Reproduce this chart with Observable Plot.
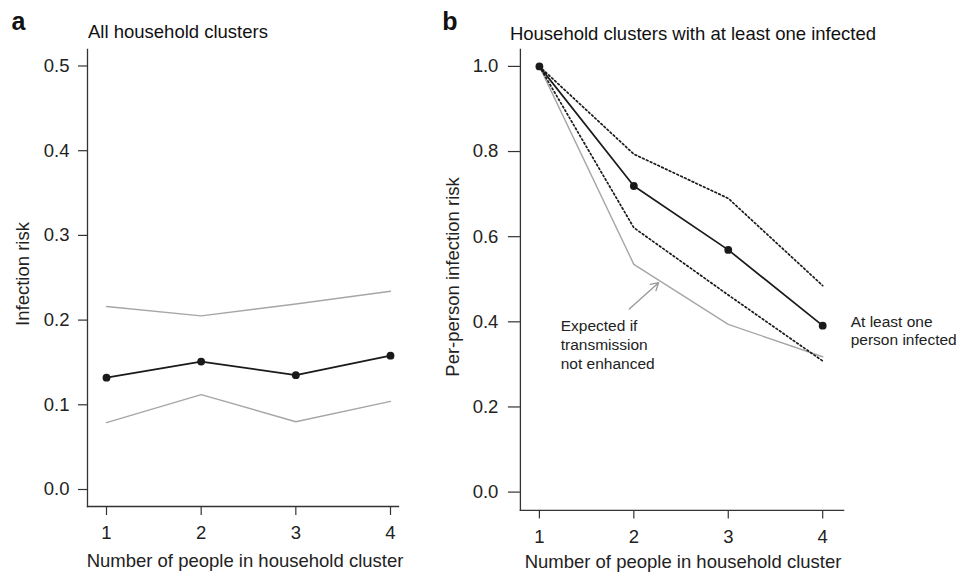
<!DOCTYPE html>
<html>
<head>
<meta charset="utf-8">
<script src="https://cdn.jsdelivr.net/npm/d3@7"></script>
<script src="https://cdn.jsdelivr.net/npm/@observablehq/plot@0.6"></script>
<style>
  html, body { margin: 0; padding: 0; background: #fff; }
  #chart { position: relative; width: 960px; height: 572px; overflow: hidden; }
  #chart svg { position: absolute; top: 0; }
</style>
</head>
<body>
<div id="chart"></div>
<script>
// ---- data ----
const sizes = [1, 2, 3, 4];                         // number of people in household cluster
const xTicks = [1, 2, 3, 4];

// Panel a: all household clusters
const allMean  = [0.132, 0.151, 0.135, 0.158];
const allUpper = [0.216, 0.205, 0.219, 0.234];
const allLower = [0.079, 0.112, 0.080, 0.104];
const aTicks   = [0, 0.1, 0.2, 0.3, 0.4, 0.5];

// Panel b: household clusters with at least one infected
const infMean     = [1.0, 0.719, 0.569, 0.391];
const infUpper    = [1.0, 0.794, 0.690, 0.485];
const infLower    = [1.0, 0.621, 0.463, 0.308];
const infExpected = [1.0, 0.535, 0.394, 0.318];
const bTicks      = [0, 0.2, 0.4, 0.6, 0.8, 1.0];

// Texts
const panelLetters = ["a", "b"];
const titles = ["All household clusters", "Household clusters with at least one infected"];
const xLabel = "Number of people in household cluster";
const yLabels = ["Infection risk", "Per-person infection risk"];
const meanNote = "At least one\nperson infected";
const expectedNote = "Expected if\ntransmission\nnot enhanced";
// annotation anchor (data units) and arrow (data units)
const expectedNoteAt = [{x: 1.2256, y: 0.41}];
const expectedArrow = [{x1: 1.952, y1: 0.43, x2: 2.262, y2: 0.492}];

// ---- build tables ----
const rows = (vals, series) => sizes.map((s, i) => ({size: s, value: vals[i], series}));
const aBands = [...rows(allUpper, "upper"), ...rows(allLower, "lower")];
const aMean = rows(allMean, "mean");
const bCI = [...rows(infUpper, "upper"), ...rows(infLower, "lower")];
const bMean = rows(infMean, "mean");
const bExp = rows(infExpected, "expected");

const FONT = "'Liberation Sans', Arial, Helvetica, sans-serif";
const INK = "#1a1a1a";
const GRAY = "#a6a6a6";
const AXIS = "#333";

const chart = document.getElementById("chart");

// ---- Panel a ----
const plotA = Plot.plot({
  width: 430, height: 572,
  marginLeft: 87, marginTop: 49, marginBottom: 66, marginRight: 32,
  style: {fontFamily: FONT, fontSize: "18.5px", color: "#222", background: "transparent", overflow: "visible"},
  x: {domain: [1, 4], range: [106, 390]},
  y: {domain: [0, 0.5], range: [489, 65.5]},
  marks: [
    Plot.frame({anchor: "left", stroke: AXIS, strokeWidth: 1.3}),
    Plot.frame({anchor: "bottom", stroke: AXIS, strokeWidth: 1.3}),
    Plot.axisY({ticks: aTicks, tickFormat: d3.format(".1f"), tickSize: 9, tickPadding: 9, label: null,
                fontSize: "18.5px", stroke: AXIS, strokeWidth: 1.2}),
    Plot.axisX({ticks: xTicks, tickFormat: "d", tickSize: 9, tickPadding: 10, label: null,
                fontSize: "18.5px", stroke: AXIS, strokeWidth: 1.2}),
    Plot.line(aBands, {x: "size", y: "value", z: "series", stroke: GRAY, strokeWidth: 1.4}),
    Plot.line(aMean, {x: "size", y: "value", stroke: INK, strokeWidth: 1.7}),
    Plot.dot(aMean, {x: "size", y: "value", r: 3.9, fill: INK, stroke: "none"}),
    Plot.text([titles[0]], {frameAnchor: "top-left", textAnchor: "start", lineAnchor: "bottom",
                            dx: 0.5, dy: -11.7, fontSize: "18.5px", fill: "#111"}),
    Plot.text([panelLetters[0]], {frameAnchor: "top-left", textAnchor: "start", lineAnchor: "bottom",
                            dx: -76, dy: -19.7, fontSize: "25px", fontWeight: "bold", fill: "#111"}),
    Plot.text([yLabels[0]], {frameAnchor: "left", rotate: -90, textAnchor: "middle", lineAnchor: "bottom",
                            dx: -59, dy: -4, fontSize: "18.5px", fill: "#222"}),
    Plot.text([xLabel], {frameAnchor: "bottom", textAnchor: "middle", lineAnchor: "bottom",
                            dx: 2, dy: 60.2, fontSize: "18.5px", fill: "#222"})
  ]
});
plotA.style.left = "0px";
chart.appendChild(plotA);

// ---- Panel b ----
const plotB = Plot.plot({
  width: 530, height: 572,
  marginLeft: 89.9, marginTop: 49, marginBottom: 62.1, marginRight: 116.9,
  style: {fontFamily: FONT, fontSize: "18.5px", color: "#222", background: "transparent", overflow: "visible"},
  x: {domain: [1, 4], range: [108.9, 392.2]},
  y: {domain: [0, 1], range: [491.6, 65.9]},
  marks: [
    Plot.frame({anchor: "left", stroke: AXIS, strokeWidth: 1.3}),
    Plot.frame({anchor: "bottom", stroke: AXIS, strokeWidth: 1.3}),
    Plot.axisY({ticks: bTicks, tickFormat: d3.format(".1f"), tickSize: 12, tickPadding: 10, label: null,
                fontSize: "18.5px", stroke: AXIS, strokeWidth: 1.2}),
    Plot.axisX({ticks: xTicks, tickFormat: "d", tickSize: 8.5, tickPadding: 10.5, label: null,
                fontSize: "18.5px", stroke: AXIS, strokeWidth: 1.2}),
    Plot.line(bExp, {x: "size", y: "value", stroke: GRAY, strokeWidth: 1.4}),
    Plot.line(bCI, {x: "size", y: "value", z: "series", stroke: INK, strokeWidth: 1.7, strokeDasharray: "1.7,2.5"}),
    Plot.line(bMean, {x: "size", y: "value", stroke: INK, strokeWidth: 1.7}),
    Plot.dot(bMean, {x: "size", y: "value", r: 3.9, fill: INK, stroke: "none"}),
    Plot.arrow(expectedArrow, {x1: "x1", y1: "y1", x2: "x2", y2: "y2", stroke: "#9a9a9a",
                               strokeWidth: 1.4, headLength: 9}),
    Plot.text(expectedNoteAt, {x: "x", y: "y", text: () => expectedNote, textAnchor: "start", lineAnchor: "top",
                               lineHeight: 1.23, fontSize: "15.5px", fill: "#222"}),
    Plot.text(bMean.slice(-1), {x: "size", y: "value", text: () => meanNote, textAnchor: "start", lineAnchor: "top",
                               lineHeight: 1.16, dx: 28, dy: -11.7, fontSize: "15.5px", fill: "#222"}),
    Plot.text([titles[1]], {frameAnchor: "top-left", textAnchor: "start", lineAnchor: "bottom",
                            dx: -10.5, dy: -9.1, fontSize: "18.5px", fill: "#111"}),
    Plot.text([panelLetters[1]], {frameAnchor: "top-left", textAnchor: "start", lineAnchor: "bottom",
                            dx: -78.1, dy: -19.3, fontSize: "25px", fontWeight: "bold", fill: "#111"}),
    Plot.text([yLabels[1]], {frameAnchor: "left", rotate: -90, textAnchor: "middle", lineAnchor: "bottom",
                            dx: -61.6, dy: -3, fontSize: "18.5px", fill: "#222"}),
    Plot.text([xLabel], {frameAnchor: "bottom", textAnchor: "middle", lineAnchor: "bottom",
                            dx: 1, dy: 57.3, fontSize: "18.5px", fill: "#222"})
  ]
});
plotB.style.left = "430px";
chart.appendChild(plotB);
</script>
</body>
</html>
